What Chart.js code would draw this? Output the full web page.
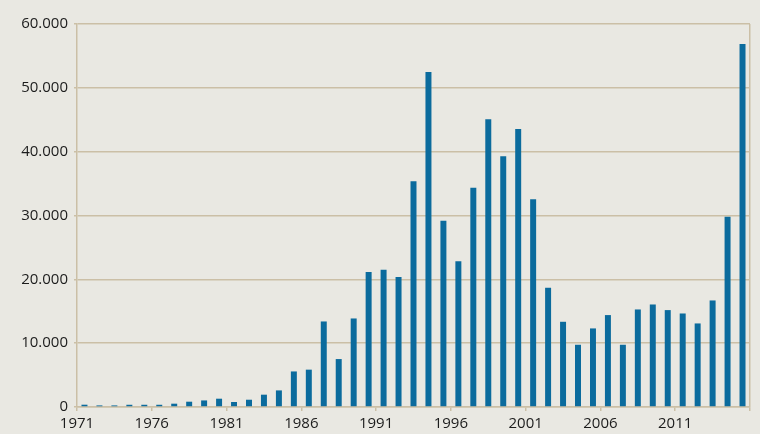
<!DOCTYPE html>
<html>
<head>
<meta charset="utf-8">
<script src="https://cdn.jsdelivr.net/npm/chart.js@4"></script>
<style>
  html, body { margin: 0; padding: 0; background: #e9e8e2; }
  canvas { display: block; }
</style>
</head>
<body>
<canvas id="myChart" width="760" height="434"></canvas>
<script>
// years on the x axis
const years = [
  '1971', '1972', '1973', '1974', '1975', '1976', '1977', '1978', '1979', '1980',
  '1981', '1982', '1983', '1984', '1985', '1986', '1987', '1988', '1989', '1990',
  '1991', '1992', '1993', '1994', '1995', '1996', '1997', '1998', '1999', '2000',
  '2001', '2002', '2003', '2004', '2005', '2006', '2007', '2008', '2009', '2010',
  '2011', '2012', '2013', '2014', '2015'
];

// bar values
const values = [
  360, 250, 250, 350, 350, 350, 520, 830, 1030, 1300,
  780, 1140, 1930, 2600, 5570, 5850, 13400, 7510, 13870, 21130,
  21490, 20350, 35380, 52490, 29160, 22850, 34330, 45080, 39290, 43560,
  32560, 18680, 13350, 9750, 12310, 14400, 9750, 15280, 16060, 15180,
  14650, 13090, 16690, 29790, 56870
];

// only these years get a label under the axis
const yearTicks = ['1971', '1976', '1981', '1986', '1991', '1996', '2001', '2006', '2011'];

const tan = '#cbbfa6';
const ctx = document.getElementById('myChart');

new Chart(ctx, {
  type: 'bar',
  data: {
    labels: years,
    datasets: [{
      data: values,
      backgroundColor: '#0b6b9d',
      barPercentage: 0.4,
      categoryPercentage: 1
    }]
  },
  options: {
    responsive: false,
    animation: false,
    layout: { padding: { top: 24, right: 10, left: 0, bottom: 0 } },
    plugins: { legend: { display: false }, tooltip: { enabled: false } },
    scales: {
      x: {
        afterFit: s => { s.height = 27; },
        grid: {
          offset: true,
          drawOnChartArea: true,
          tickLength: 4,
          lineWidth: 1.5,
          color: c => c.index === undefined ? tan : 'rgba(0,0,0,0)',  // right border only
          tickColor: c => (c.index === undefined || c.index % 5 === 0) ? tan : 'rgba(0,0,0,0)'
        },
        border: { color: tan, width: 1.5 },
        ticks: {
          autoSkip: false,
          maxRotation: 0,
          labelOffset: -7.5,
          padding: 4,
          color: '#1c1c1c',
          font: { family: 'Open Sans', size: 15 },
          callback: function (v, i) {
            const y = this.getLabelForValue(v);
            return yearTicks.includes(y) ? y : '';
          }
        }
      },
      y: {
        min: 0,
        max: 60000,
        afterFit: s => { s.width = 77; },
        grid: { color: tan, lineWidth: 1.5, tickLength: 3 },
        border: { color: tan, width: 1.5 },
        ticks: {
          stepSize: 10000,
          padding: 6,
          color: '#1c1c1c',
          font: { family: 'Open Sans', size: 15 },
          callback: v => v.toLocaleString('de-DE')
        }
      }
    }
  }
});
</script>
</body>
</html>
